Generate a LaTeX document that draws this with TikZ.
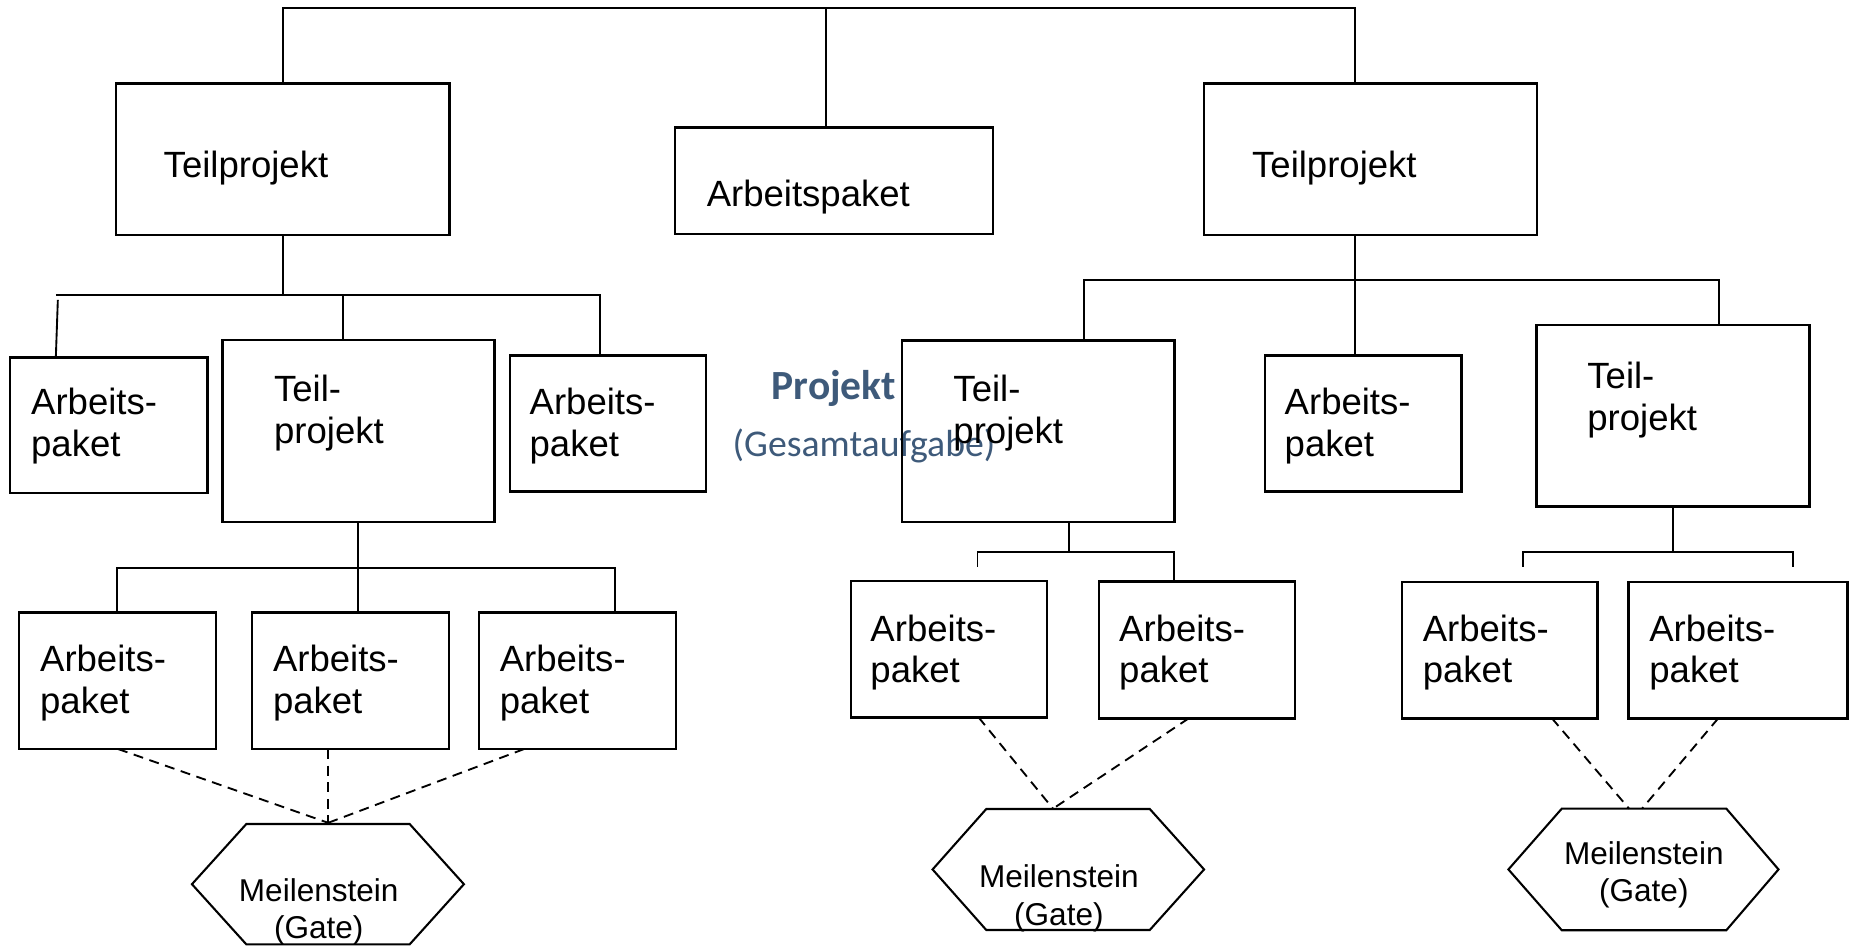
\documentclass[tikz,border=0pt]{standalone}
\usepackage{fontspec}
\setmainfont{Liberation Sans}
\newfontfamily\calibri{Carlito}
\usetikzlibrary{fit}
\definecolor{projblue}{RGB}{62,90,122}

\begin{document}
\begin{tikzpicture}[x=0.01cm, y=-0.01cm,
  box/.style={draw, line width=0.6pt, inner sep=0pt, outer sep=0pt},
  lbl/.style={anchor=north west, inner sep=0pt, align=left, font=\fontsize{8.8}{10}\selectfont},
  link/.style={line width=0.45pt},
  gatelink/.style={line width=0.45pt, dash pattern=on 2.4pt off 1.6pt},
  gate/.style={line width=0.5pt, line join=miter},
  gatetxt/.style={anchor=north, inner sep=0pt, align=center, font=\fontsize{7.6}{9}\selectfont}]

\fill[white] (0,0) rectangle (1568,802);
\useasboundingbox (0,0) rectangle (1568,802);

% centre title
\node[anchor=base west, inner sep=0pt, text=projblue, font=\calibri\bfseries\fontsize{10}{12}\selectfont] (title) at (653,338) {Projekt};
\node[anchor=base west, inner sep=0pt, text=projblue, font=\calibri\fontsize{9.1}{11}\selectfont] (subtitle) at (620,387) {(Gesamtaufgabe)};

% first level
\node[box, fit={(98.4,70.6) (380.9,199)}] (tp1) {};
\node[box, fit={(572,108) (841,198)}] (ap0) {};
\node[box, fit={(1020,70.6) (1302,199)}] (tp2) {};
\node[lbl] (tp1t) at (138,127) {Teilprojekt};
\node[lbl] (ap0t) at (598,152) {Arbeitspaket};
\node[lbl] (tp2t) at (1060,127) {Teilprojekt};

% second level
\node[box, fit={(8.3,302.7) (175.8,417.8)}] (apl1) {};
\node[box, fit={(188.3,288) (419,442)}] (tpl) {};
\node[box, fit={(432,301) (598,416.5)}] (apl2) {};
\node[box, fit={(764,288.6) (995,442)}] (tpm) {};
\node[box, fit={(1071.6,301) (1238,416.5)}] (apm) {};
\node[box, fit={(1301.7,275.3) (1532.8,429.2)}] (tpr) {};
\node[lbl] (apl1t) at (25.7,328) {Arbeits-\\paket};
\node[lbl] (tplt) at (231.5,317) {Teil-\\projekt};
\node[lbl] (apl2t) at (448,328) {Arbeits-\\paket};
\node[lbl] (tpmt) at (807,317) {Teil-\\projekt};
\node[lbl] (apmt) at (1087.6,328) {Arbeits-\\paket};
\node[lbl] (tprt) at (1344,306) {Teil-\\projekt};

% third level
\node[box, fit={(15.9,519) (183,634.5)}] (apb1) {};
\node[box, fit={(213.6,519) (380.4,634.5)}] (apb2) {};
\node[box, fit={(405.8,519) (572.8,634.5)}] (apb3) {};
\node[box, fit={(721,492) (887,607.7)}] (apm1) {};
\node[box, fit={(931,492.7) (1097,608.5)}] (apm2) {};
\node[box, fit={(1187.5,493) (1353.3,608.5)}] (apr1) {};
\node[box, fit={(1379.4,493) (1565,608.5)}] (apr2) {};
\node[lbl] (apb1t) at (33.3,546) {Arbeits-\\paket};
\node[lbl] (apb2t) at (230.6,546) {Arbeits-\\paket};
\node[lbl] (apb3t) at (422.7,546) {Arbeits-\\paket};
\node[lbl] (apm1t) at (736.7,520) {Arbeits-\\paket};
\node[lbl] (apm2t) at (947.4,520) {Arbeits-\\paket};
\node[lbl] (apr1t) at (1204.6,520) {Arbeits-\\paket};
\node[lbl] (apr2t) at (1396.5,520) {Arbeits-\\paket};

% milestones (gates)
\draw[gate] (208.7,698) -- (347,698) -- (393,749) -- (347,800) -- (208.7,800) -- (162.6,749) -- cycle;
\draw[gate] (835.5,685.3) -- (974,685.3) -- (1020,736.5) -- (974,787.8) -- (835.5,787.8) -- (790,736.5) -- cycle;
\draw[gate] (1323,685) -- (1462.4,685) -- (1506.6,736.5) -- (1462.4,788) -- (1323,788) -- (1277.8,736.5) -- cycle;
\node[gatetxt] (gate1) at (270,743.5) {Meilenstein\\(Gate)};
\node[gatetxt] (gate2) at (897,732) {Meilenstein\\(Gate)};
\node[gatetxt] (gate3) at (1392.5,712) {Meilenstein\\(Gate)};
\coordinate (g1) at (278,697);
\coordinate (g2) at (892,685);
\coordinate (g3a) at (1380,685);
\coordinate (g3b) at (1391,685);

% top bus
\coordinate (tA) at (240,7);
\coordinate (tB) at (700,7);
\coordinate (tC) at (1148,7);
\draw[link] (tA |- tp1.north) -- (tA) -- (tC) -- (tC |- tp2.north);
\draw[link] (tB) -- (tB |- ap0.north);

% left sub-project bus
\coordinate (lL) at (47.3,250);
\coordinate (lM) at (290.5,250);
\coordinate (lR) at (508,250);
\coordinate (lT) at (240,250);
\coordinate (lS) at (49,254);
\coordinate (lS2) at (47.3,0);
\draw[link] (tp1.south -| lT) -- (lT);
\draw[link] (lL) -- (lR) -- (lR |- apl2.north);
\draw[link] (lM) -- (lM |- tpl.north);
\draw[link] (lS) -- (lS2 |- apl1.north);

% right sub-project bus
\coordinate (rL) at (918,237);
\coordinate (rM) at (1148,237);
\coordinate (rR) at (1456,237);
\draw[link] (tp2.south -| rM) -- (rM |- apm.north);
\draw[link] (rL |- tpm.north) -- (rL) -- (rR) -- (rR |- tpr.north);

% bus below left inner sub-project
\coordinate (bL) at (99,481);
\coordinate (bM) at (303.3,481);
\coordinate (bR) at (521,481);
\draw[link] (tpl.south -| bM) -- (bM) -- (bM |- apb2.north);
\draw[link] (bL |- apb1.north) -- (bL) -- (bR) -- (bR |- apb3.north);

% bus below middle sub-project
\coordinate (mL) at (828,467.3);
\coordinate (mM) at (905.4,467.3);
\coordinate (mR) at (994.5,467.3);
\coordinate (mS) at (828,480);
\draw[link] (tpm.south -| mM) -- (mM);
\draw[link] (mS) -- (mL) -- (mR) -- (mR |- apm2.north);

% bus below right sub-project
\coordinate (qL) at (1290,467.3);
\coordinate (qM) at (1417,467.3);
\coordinate (qR) at (1519,467.3);
\coordinate (qL1) at (1290,480);
\coordinate (qR1) at (1519,480);
\draw[link] (tpr.south -| qM) -- (qM);
\draw[link] (qL1) -- (qL) -- (qR) -- (qR1);

% dashed links to the gates
\coordinate (d11) at (100,0);
\coordinate (d13) at (444,0);
\coordinate (d21) at (829,0);
\coordinate (d22) at (1007,0);
\coordinate (d31) at (1314.7,0);
\coordinate (d32) at (1455.5,0);
\draw[gatelink] (d11 |- apb1.south) -- (g1);
\draw[gatelink] (g1 |- apb2.south) -- (g1);
\draw[gatelink] (d13 |- apb3.south) -- (g1);
\draw[gatelink] (d21 |- apm1.south) -- (g2);
\draw[gatelink] (d22 |- apm2.south) -- (g2);
\draw[gatelink] (d31 |- apr1.south) -- (g3a);
\draw[gatelink] (d32 |- apr2.south) -- (g3b);
\end{tikzpicture}
\end{document}
